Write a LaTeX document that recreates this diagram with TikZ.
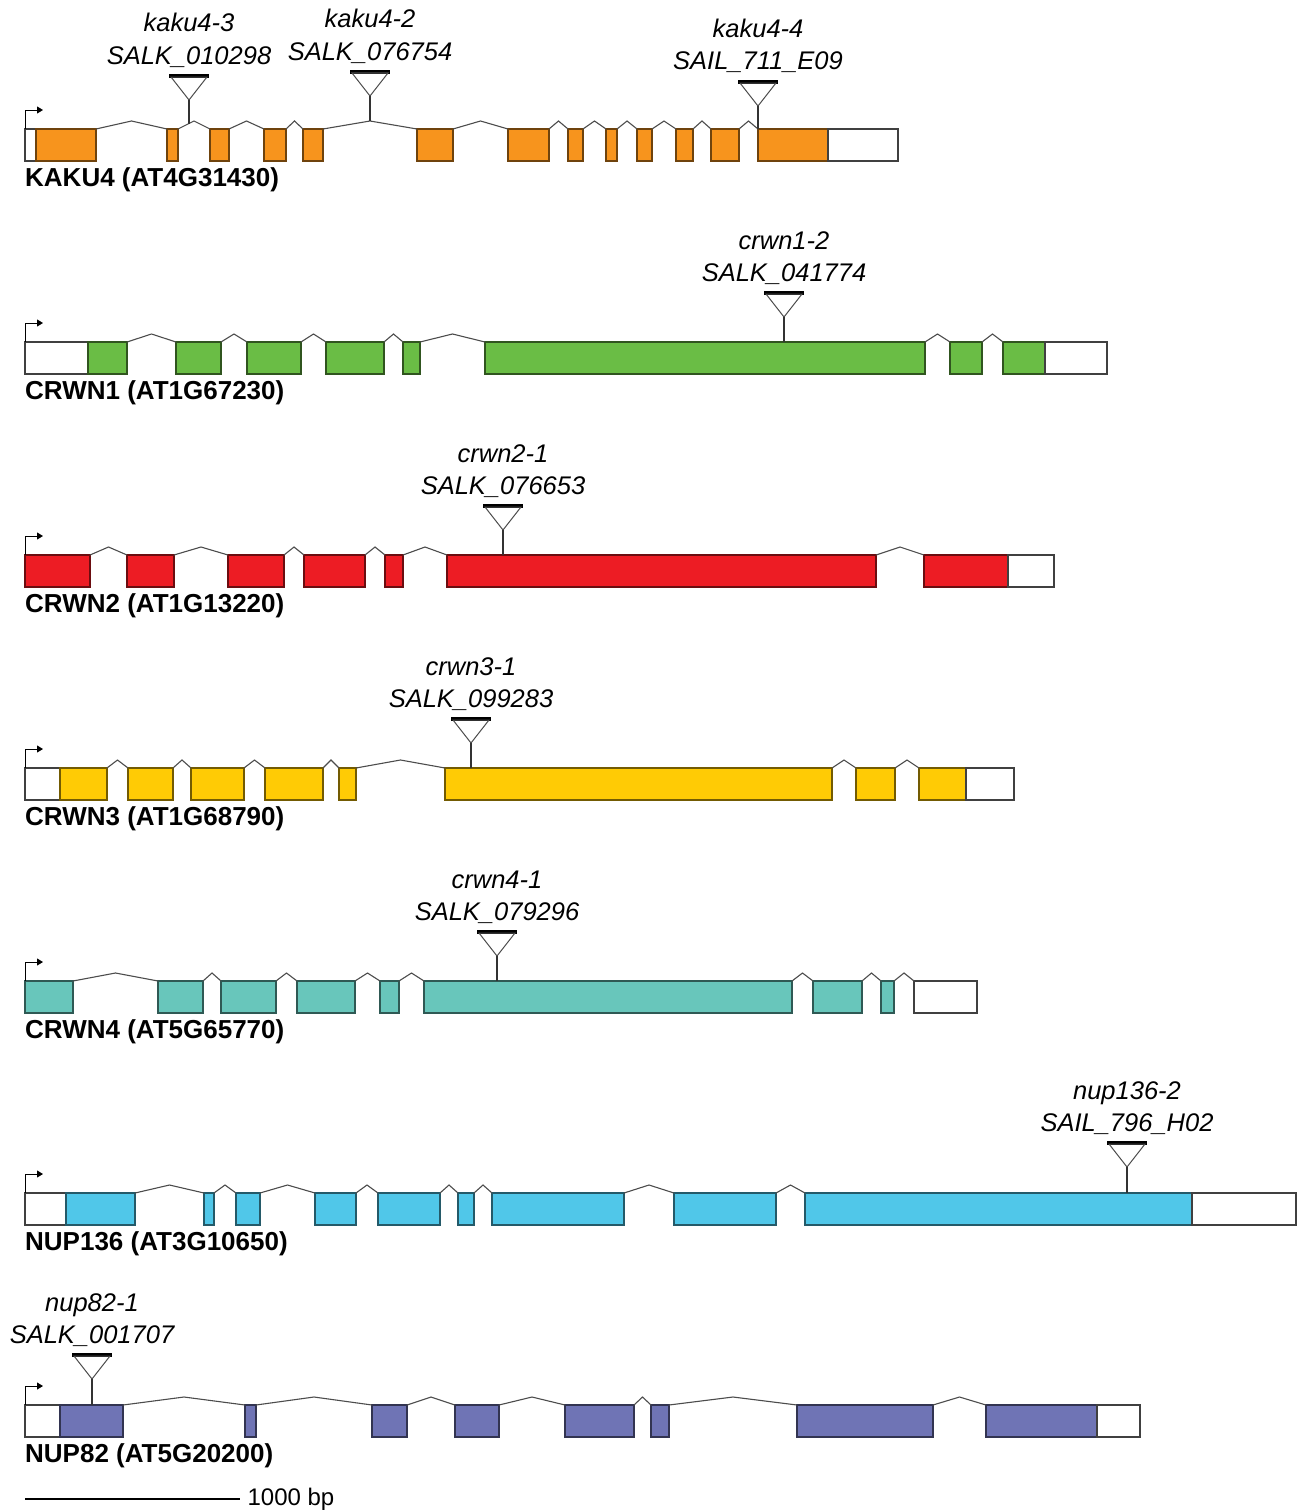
\documentclass[tikz,border=0pt]{standalone}
\usepackage{fontspec}
\setmainfont{Liberation Sans}
\usepackage{xcolor}
\usepackage{tikz}
\usetikzlibrary{arrows.meta,calc}

\definecolor{kakuorange}{HTML}{F7941D}
\definecolor{crwngreen}{HTML}{6ABD45}
\definecolor{crwnred}{HTML}{ED1C24}
\definecolor{crwnyellow}{HTML}{FFCB05}
\definecolor{crwnteal}{HTML}{68C6BB}
\definecolor{nupblue}{HTML}{50C7E9}
\definecolor{nupviolet}{HTML}{6F74B5}

% gene model: name, top of the boxes, colour, exons (from/to/kind), label
\newcommand{\genemodel}[5]{%
  \foreach \a/\b/\k [count=\i, remember=\i as \j (initially 0),
                     remember=\b as \lastb (initially 0)] in {#4} {
    \pgfmathsetmacro{\w}{\b-\a}
    \node[\k=#3, minimum width=\w pt] (#1-\i) at (\a,#2) {};
    \ifnum\i>1 \ifdim\a pt>\lastb pt
      \draw[intron] (#1-\j.north east)
        -- ($(#1-\j.north east)!0.5!(#1-\i.north west)+(0,-8)$)
        -- (#1-\i.north west);
    \fi\fi
  }
  \draw[tss] (#1-1.north west) -- ++(0,-19) -- ++(18,0);
  \node[genelabel] (#1-name) at (25,#2+51) {#5};
}

% T-DNA insertion: name, x, y of the bar, allele, line
\newcommand{\tdna}[5]{%
  \draw[tbar] (#2-20,#3) -- (#2+20,#3);
  \draw[tri] (#2-18,#3+1) -- (#2+18,#3+1) -- (#2,#3+24) -- cycle;
  \coordinate (#1) at (#2,#3+24);
  \node[allele] (#1-allele) at (#2,#3-44) {#4};
  \node[allele] (#1-line) at (#2,#3-12) {#5};
}

\begin{document}
\begin{tikzpicture}[
  x=1pt, y=-1pt,
  every node/.style={font=\fontsize{25.5}{30}\selectfont},
  exon/.style={
    draw=#1!45!black,
    fill=#1,
    line width=1.1pt,
    minimum height=32pt,
    inner sep=0pt,
    outer sep=0pt,
    anchor=north west
  },
  utr/.style={
    draw=black!75,
    fill=white,
    line width=1.1pt,
    minimum height=32pt,
    inner sep=0pt,
    outer sep=0pt,
    anchor=north west
  },
  intron/.style={draw=black!70, line width=1.1pt},
  tss/.style={-{Triangle[length=6pt, width=7pt]}, line width=1pt},
  stem/.style={black!80, line width=1.1pt},
  tbar/.style={line width=3.5pt},
  tri/.style={draw=black!70, line width=1pt, line join=miter},
  allele/.style={anchor=base, inner sep=0pt, font=\fontsize{25.5}{30}\selectfont\itshape},
  genelabel/.style={anchor=west, inner sep=0pt, font=\fontsize{26}{30}\selectfont\bfseries}
]
\useasboundingbox (0,0) rectangle (1309,1512);

% KAKU4
\genemodel{kaku4}{129}{kakuorange}{25/36/utr, 36/96/exon, 167/178/exon,
  210/229/exon, 264/286/exon, 303/323/exon, 417/453/exon, 508/549/exon,
  568/583/exon, 606/617/exon, 637/652/exon, 676/693/exon, 711/739/exon,
  758/828/exon, 828/898/utr}{KAKU4 (AT4G31430)}
\tdna{t-kaku4-3}{189}{76}{kaku4-3}{SALK\_010298}
\tdna{t-kaku4-2}{370}{72}{kaku4-2}{SALK\_076754}
\tdna{t-kaku4-4}{758}{82}{kaku4-4}{SAIL\_711\_E09}
\coordinate (s-kaku4-3) at (189,123.5);
\coordinate (s-kaku4-2) at (370,121);
\draw[stem] (t-kaku4-3) -- (s-kaku4-3);
\draw[stem] (t-kaku4-2) -- (s-kaku4-2);
\draw[stem] (t-kaku4-4) -- (kaku4-14.north west);

% CRWN1
\genemodel{crwn1}{342}{crwngreen}{25/88/utr, 88/127/exon, 176/221/exon,
  247/301/exon, 326/384/exon, 403/420/exon, 485/925/exon, 950/982/exon,
  1003/1045/exon, 1045/1107/utr}{CRWN1 (AT1G67230)}
\tdna{t-crwn1-2}{784}{293}{crwn1-2}{SALK\_041774}
\draw[stem] (t-crwn1-2) -- (t-crwn1-2 |- crwn1-7.north);

% CRWN2
\genemodel{crwn2}{555}{crwnred}{25/90/exon, 127/174/exon, 228/284/exon,
  304/365/exon, 385/403/exon, 447/876/exon, 924/1008/exon,
  1008/1054/utr}{CRWN2 (AT1G13220)}
\tdna{t-crwn2-1}{503}{506}{crwn2-1}{SALK\_076653}
\draw[stem] (t-crwn2-1) -- (t-crwn2-1 |- crwn2-6.north);

% CRWN3
\genemodel{crwn3}{768}{crwnyellow}{25/60/utr, 60/107/exon, 128/173/exon,
  191/244/exon, 265/323/exon, 339/356/exon, 445/832/exon, 856/895/exon,
  919/966/exon, 966/1014/utr}{CRWN3 (AT1G68790)}
\tdna{t-crwn3-1}{471}{719}{crwn3-1}{SALK\_099283}
\draw[stem] (t-crwn3-1) -- (t-crwn3-1 |- crwn3-7.north);

% CRWN4
\genemodel{crwn4}{981}{crwnteal}{25/73/exon, 158/203/exon, 221/276/exon,
  297/355/exon, 380/399/exon, 424/792/exon, 813/862/exon, 881/894/exon,
  914/977/utr}{CRWN4 (AT5G65770)}
\tdna{t-crwn4-1}{497}{932}{crwn4-1}{SALK\_079296}
\draw[stem] (t-crwn4-1) -- (t-crwn4-1 |- crwn4-6.north);

% NUP136
\genemodel{nup136}{1193}{nupblue}{25/66/utr, 66/135/exon, 204/214/exon,
  236/260/exon, 315/356/exon, 378/440/exon, 458/474/exon, 492/624/exon,
  674/776/exon, 805/1192/exon, 1192/1296/utr}{NUP136 (AT3G10650)}
\tdna{t-nup136-2}{1127}{1143}{nup136-2}{SAIL\_796\_H02}
\draw[stem] (t-nup136-2) -- (t-nup136-2 |- nup136-10.north);

% NUP82
\genemodel{nup82}{1405}{nupviolet}{25/60/utr, 60/123/exon, 245/256/exon,
  372/407/exon, 455/499/exon, 565/634/exon, 651/669/exon, 797/933/exon,
  986/1097/exon, 1097/1140/utr}{NUP82 (AT5G20200)}
\tdna{t-nup82-1}{92}{1355}{nup82-1}{SALK\_001707}
\draw[stem] (t-nup82-1) -- (t-nup82-1 |- nup82-2.north);

% scale bar
\coordinate (bar-start) at (25,1499);
\coordinate (bar-end) at (240,1499);
\draw[line width=1.2pt] (bar-start) -- (bar-end)
  node[anchor=west, inner sep=0pt, xshift=7pt, font=\fontsize{24}{28}\selectfont] (bar-label) {1000 bp};

\end{tikzpicture}
\end{document}
